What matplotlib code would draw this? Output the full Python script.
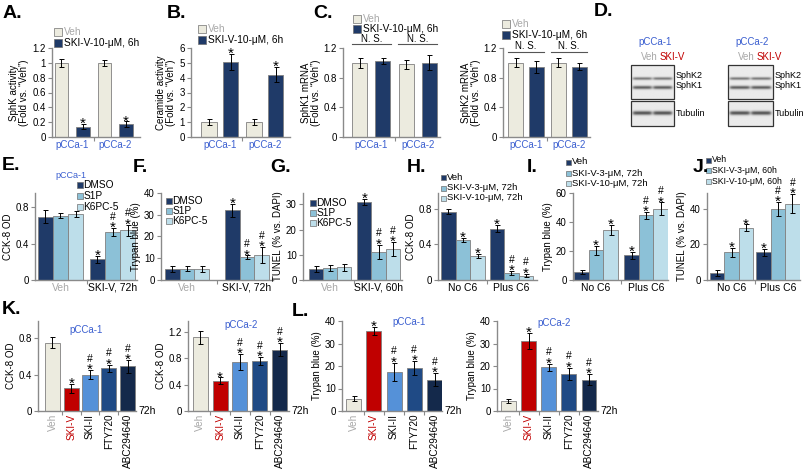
import numpy as np
import matplotlib
matplotlib.use('Agg')
import matplotlib.pyplot as plt
from matplotlib.patches import Rectangle
from matplotlib.ticker import FuncFormatter, FixedLocator

# ---------------- data ----------------
top_groups = ['pCCa-1', 'pCCa-2']
A_veh = [1.00, 1.00]; A_veh_err = [0.05, 0.04]
A_ski = [0.14, 0.17]; A_ski_err = [0.03, 0.04]
B_veh = [1.0, 1.0]; B_veh_err = [0.2, 0.22]
B_ski = [5.05, 4.2]; B_ski_err = [0.55, 0.5]
C1_veh = [1.00, 0.98]; C1_veh_err = [0.07, 0.06]
C1_ski = [1.02, 1.00]; C1_ski_err = [0.04, 0.10]
C2_veh = [1.00, 1.00]; C2_veh_err = [0.06, 0.06]
C2_ski = [0.94, 0.95]; C2_ski_err = [0.08, 0.05]

EF_groups = ['Veh', 'SKI-V, 72h']
G_groups = ['Veh', 'SKI-V, 60h']
HIJ_groups = ['No C6', 'Plus C6']
E_dmso = [0.70, 0.23]; E_dmso_err = [0.07, 0.04]
E_s1p = [0.71, 0.53]; E_s1p_err = [0.03, 0.04]
E_k6 = [0.73, 0.55]; E_k6_err = [0.03, 0.06]
F_dmso = [5.0, 32.0]; F_dmso_err = [1.5, 3.0]
F_s1p = [5.2, 10.5]; F_s1p_err = [1.2, 0.8]
F_k6 = [5.0, 11.5]; F_k6_err = [1.3, 3.5]
G_dmso = [4.5, 31.0]; G_dmso_err = [1.2, 1.3]
G_s1p = [4.8, 11.2]; G_s1p_err = [1.2, 2.8]
G_k6 = [5.0, 12.3]; G_k6_err = [1.3, 2.7]
H_veh = [0.77, 0.58]; H_veh_err = [0.03, 0.04]
H_3 = [0.45, 0.08]; H_3_err = [0.02, 0.02]
H_10 = [0.27, 0.05]; H_10_err = [0.02, 0.02]
I_veh = [5.5, 17.0]; I_veh_err = [1.5, 2.3]
I_3 = [20.5, 44.5]; I_3_err = [3.2, 2.5]
I_10 = [34.5, 49.0]; I_10_err = [3.5, 4.5]
J_veh = [4.0, 15.5]; J_veh_err = [1.5, 1.8]
J_3 = [15.5, 40.0]; J_3_err = [2.8, 4.0]
J_10 = [29.5, 43.0]; J_10_err = [1.8, 5.5]

KL_labels = ['Veh', 'SKI-V', 'SKI-II', 'FTY720', 'ABC294640']
K1 = [0.75, 0.25, 0.40, 0.47, 0.49]; K1_err = [0.06, 0.05, 0.05, 0.04, 0.07]
K2 = [1.12, 0.46, 0.75, 0.76, 0.93]; K2_err = [0.10, 0.05, 0.12, 0.06, 0.10]
L1 = [5.5, 35.5, 17.5, 19.0, 14.0]; L1_err = [1.0, 1.8, 4.0, 3.2, 2.8]
L2 = [4.5, 31.0, 19.5, 16.5, 14.0]; L2_err = [1.0, 3.5, 1.5, 2.8, 2.5]

# significance marks
top_marks_ski = ['*', '*']
E_marks = [['', '*'], ['', '#*'], ['', '#*']]
HIJ_marks = [['', '*'], ['*', '#*'], ['*', '#*']]
KL_marks = ['', '*', '#*', '#*', '#*']

# ---------------- style ----------------
W, H = 807, 472
plt.rcParams['font.family'] = ['Liberation Sans', 'DejaVu Sans']
plt.rcParams['font.size'] = 7
BEIGE = '#ecebdf'
NAVY = '#1f3a68'
MID = '#8cc1d7'
LIGHT = '#bddeea'
RED = '#c00000'
SKI2 = '#5591d8'
FTY = '#1f4a85'
ABC = '#14294b'
BLUE_T = '#3b5fd0'
GRAY_T = '#a8a8a8'
SPINE = '#8a8a8a'
EDGE = '#808080'

fig = plt.figure(figsize=(W / 100, H / 100), dpi=100)


def px_axes(x0, y0, x1, y1):
    return fig.add_axes([x0 / W, 1 - y1 / H, (x1 - x0) / W, (y1 - y0) / H])


def ftext(x, y, s, **kw):
    kw.setdefault('va', 'center')
    return fig.text(x / W, 1 - y / H, s, **kw)


def fsquare(x, yc, size, color):
    fig.patches.append(Rectangle((x / W, 1 - (yc + size / 2) / H), size / W, size / H,
                                 transform=fig.transFigure, facecolor=color,
                                 edgecolor='#707070', linewidth=0.5))


def legend_px(x, ys, labels, colors, size=6, fs=7, tcolors=None, gap=2):
    for i, (yc, lab, c) in enumerate(zip(ys, labels, colors)):
        fsquare(x, yc, size, c)
        tc = tcolors[i] if tcolors else 'black'
        ftext(x + size + gap, yc, lab, fontsize=fs, color=tc, ha='left')


fmt = FuncFormatter(lambda v, p: '{:g}'.format(round(v, 3)))


def style(ax, ylim, yticks, ylabel):
    ax.set_ylim(*ylim)
    ax.set_yticks(yticks)
    ax.yaxis.set_major_formatter(fmt)
    for s in ['top', 'right']:
        ax.spines[s].set_visible(False)
    for s in ['left', 'bottom']:
        ax.spines[s].set_color(SPINE)
        ax.spines[s].set_linewidth(1.0)
    ax.tick_params(axis='y', direction='out', length=3, width=0.8, color=SPINE,
                   labelsize=7, pad=1.5)
    ax.tick_params(axis='x', which='major', length=0, pad=2)
    ax.tick_params(axis='x', which='minor', direction='out', length=3, width=0.8, color=SPINE)
    ax.set_ylabel(ylabel, fontsize=7, labelpad=2, linespacing=1.0)
    ax.patch.set_alpha(0)


def mark(ax, x, top, m, star_fs=11, hash_fs=7.5):
    if not m:
        return
    ax.annotate('*', (x, top), xytext=(0, -2.8), textcoords='offset points',
                ha='center', va='baseline', fontsize=star_fs, annotation_clip=False)
    if '#' in m:
        ax.annotate('#', (x, top), xytext=(0, 6.0), textcoords='offset points',
                    ha='center', va='baseline', fontsize=hash_fs, annotation_clip=False)


def bars(ax, series, errs, colors, width, offsets, marks=None):
    for k, (vals, er, c, off) in enumerate(zip(series, errs, colors, offsets)):
        x = np.arange(len(vals)) + off
        ax.bar(x, vals, width, color=c, edgecolor=EDGE, linewidth=0.6, yerr=er,
               error_kw=dict(ecolor='black', elinewidth=0.7, capsize=1.8, capthick=0.7),
               zorder=2)
        if marks is not None:
            for xi, v, e, m in zip(x, vals, er, marks[k]):
                mark(ax, xi, v + e, m)


def group_ticks(ax, labels, colors, fs=7.5):
    n = len(labels)
    ax.set_xticks(range(n))
    ax.set_xticklabels(labels, fontsize=fs)
    for t, c in zip(ax.get_xticklabels(), colors):
        t.set_color(c)
    ax.xaxis.set_minor_locator(FixedLocator([i + 0.5 for i in range(n - 1)]))


# ---------------- top row ----------------
top_panels = [
    ((52, 48, 140, 137), A_veh, A_veh_err, A_ski, A_ski_err, 0.32, 0.25, (-0.47, 1.58),
     (0, 1.2), [0, 0.2, 0.4, 0.6, 0.8, 1.0, 1.2], 'SphK activity\n(Fold vs. \u201cVeh\u201d)', top_marks_ski),
    ((191, 48, 290, 137), B_veh, B_veh_err, B_ski, B_ski_err, 0.35, 0.24, (-0.64, 1.56),
     (0, 6), [0, 1, 2, 3, 4, 5, 6], 'Ceramide activity\n(Fold vs. \u201cVeh\u201d)', top_marks_ski),
    ((343, 48, 440, 137), C1_veh, C1_veh_err, C1_ski, C1_ski_err, 0.32, 0.25, (-0.61, 1.48),
     (0, 1.2), [0, 0.4, 0.8, 1.2], 'SphK1 mRNA\n(Fold vs. \u201cVeh\u201d)', None),
    ((503, 48, 590, 137), C2_veh, C2_veh_err, C2_ski, C2_ski_err, 0.35, 0.244, (-0.535, 1.49),
     (0, 1.2), [0, 0.4, 0.8, 1.2], 'SphK2 mRNA\n(Fold vs. \u201cVeh\u201d)', None),
]
top_axes = []
for box, v, ve, s, se, w, off, xl, yl, yt, ylab, mk in top_panels:
    ax = px_axes(*box)
    bars(ax, [v, s], [ve, se], [BEIGE, NAVY], w, [-off, off],
         marks=[['', ''], mk] if mk else None)
    style(ax, yl, yt, ylab)
    ax.set_xlim(*xl)
    group_ticks(ax, top_groups, [BLUE_T, BLUE_T], fs=7)
    top_axes.append(ax)

# N.S. annotations
for ax, ly in [(top_axes[2], 1.25), (top_axes[3], 1.15)]:
    for g in range(2):
        ax.plot([g - 0.42, g + 0.42], [ly, ly], color='#555555', lw=0.8, clip_on=False)
        ax.text(g, ly + 0.005, 'N. S.', ha='center', va='bottom', fontsize=7, clip_on=False)

legend_px(54, [32, 43], ['Veh', 'SKI-V-10-\u03bcM, 6h'], [BEIGE, NAVY], size=8, fs=7.3,
          tcolors=[GRAY_T, 'black'])
legend_px(198, [29, 40], ['Veh', 'SKI-V-10-\u03bcM, 6h'], [BEIGE, NAVY], size=8, fs=7.3,
          tcolors=[GRAY_T, 'black'])
legend_px(353, [19, 28.5], ['Veh', 'SKI-V-10-\u03bcM, 6h'], [BEIGE, NAVY], size=8, fs=7.3,
          tcolors=[GRAY_T, 'black'])
legend_px(502, [24, 35], ['Veh', 'SKI-V-10-\u03bcM, 6h'], [BEIGE, NAVY], size=8, fs=7.3,
          tcolors=[GRAY_T, 'black'])

# ---------------- D: blots ----------------
axd = px_axes(620, 0, 807, 160)
axd.axis('off')


def blot(x0, x1, y0, y1, bands, lanes):
    xs = np.linspace(x0, x1, 220)
    ys = np.linspace(y0, y1, 120)
    X, Y = np.meshgrid(xs, ys)
    img = np.full_like(X, 0.92)
    for lx0, lx1 in lanes:
        lane = 1 / (1 + np.exp(-(X - lx0) * 1.2)) / (1 + np.exp((X - lx1) * 1.2))
        for by, sig, dark in bands:
            img -= dark * lane * np.exp(-((Y - by) / sig) ** 2)
    axd.imshow(img, extent=(x0, x1, y1, y0), cmap='gray', vmin=0, vmax=1,
               aspect='auto', interpolation='bilinear')
    axd.add_patch(Rectangle((x0, y0), x1 - x0, y1 - y0, fill=False, edgecolor='#333333', lw=0.9))


for bx0, bx1, title in [(631, 674, 'pCCa-1'), (728, 773, 'pCCa-2')]:
    lanes = [(bx0 + 2, bx0 + (bx1 - bx0) / 2 - 1), (bx0 + (bx1 - bx0) / 2 + 1, bx1 - 2)]
    blot(bx0, bx1, 65, 99, [(78.5, 1.4, 0.45), (87.5, 1.7, 0.55)], lanes)
    blot(bx0, bx1, 101, 126, [(113, 2.0, 0.6)], lanes)
    axd.text(bx0 + 7, 42, title, color=BLUE_T, fontsize=7, ha='left', va='center')
    axd.text(bx0 + 10, 57, 'Veh', color=GRAY_T, fontsize=7, ha='left', va='center')
    axd.text(bx0 + 29, 57, 'SKI-V', color=RED, fontsize=7, ha='left', va='center')
    axd.text(bx1 + 2, 75, 'SphK2', fontsize=6.5, ha='left', va='center')
    axd.text(bx1 + 2, 86, 'SphK1', fontsize=6.5, ha='left', va='center')
    axd.text(bx1 + 2, 113, 'Tubulin', fontsize=6.5, ha='left', va='center')
axd.set_xlim(620, 807)
axd.set_ylim(160, 0)

# ---------------- middle row ----------------
mid_panels = [
    ((35, 193, 137, 280), [E_dmso, E_s1p, E_k6], [E_dmso_err, E_s1p_err, E_k6_err], 0.29,
     (-0.49, 1.47), (0, 0.96), [0, 0.4, 0.8], 'CCK-8 OD', E_marks, EF_groups, [GRAY_T, 'black']),
    ((161, 193, 273, 280), [F_dmso, F_s1p, F_k6], [F_dmso_err, F_s1p_err, F_k6_err], 0.245,
     (-0.433, 1.434), (0, 40), [0, 10, 20, 30, 40], 'Trypan blue (%)', E_marks, EF_groups, [GRAY_T, 'black']),
    ((303, 193, 402, 280), [G_dmso, G_s1p, G_k6], [G_dmso_err, G_s1p_err, G_k6_err], 0.29,
     (-0.557, 1.484), (0, 34.5), [0, 10, 20, 30], 'TUNEL (% vs. DAPI)', E_marks, G_groups, [GRAY_T, 'black']),
    ((438, 193, 537, 280), [H_veh, H_3, H_10], [H_veh_err, H_3_err, H_10_err], 0.30,
     (-0.515, 1.526), (0, 0.98), [0, 0.4, 0.8], 'CCK-8 OD', HIJ_marks, HIJ_groups, ['black', 'black']),
    ((573, 193, 668, 280), [I_veh, I_3, I_10], [I_veh_err, I_3_err, I_10_err], 0.29,
     (-0.46, 1.44), (0, 60), [0, 20, 40, 60], 'Trypan blue (%)', HIJ_marks, HIJ_groups, ['black', 'black']),
    ((707, 193, 800, 280), [J_veh, J_3, J_10], [J_veh_err, J_3_err, J_10_err], 0.31,
     (-0.527, 1.473), (0, 49), [0, 20, 40], 'TUNEL (% vs. DAPI)', HIJ_marks, HIJ_groups, ['black', 'black']),
]
for box, ser, ers, w, xl, yl, yt, ylab, mk, grp, gcol in mid_panels:
    ax = px_axes(*box)
    bars(ax, ser, ers, [NAVY, MID, LIGHT], w, [-w, 0, w], marks=mk)
    style(ax, yl, yt, ylab)
    ax.set_xlim(*xl)
    group_ticks(ax, grp, gcol, fs=7.5)

ftext(71, 175, 'pCCa-1', color=BLUE_T, fontsize=6.5, ha='center')
legend_px(77, [185, 196, 207], ['DMSO', 'S1P', 'K6PC-5'], [NAVY, MID, LIGHT], size=5.5, fs=7.3, gap=1)
legend_px(166, [201, 211, 221], ['DMSO', 'S1P', 'K6PC-5'], [NAVY, MID, LIGHT], size=5.5, fs=7.3, gap=1)
legend_px(310, [203, 213, 223], ['DMSO', 'S1P', 'K6PC-5'], [NAVY, MID, LIGHT], size=5.5, fs=7.3, gap=1)
legend_px(441, [177, 188, 198], ['Veh', 'SKI-V-3-\u03bcM, 72h', 'SKI-V-10-\u03bcM, 72h'],
          [NAVY, MID, LIGHT], size=5, fs=6.8, gap=1)
legend_px(566, [162, 173, 183], ['Veh', 'SKI-V-3-\u03bcM, 72h', 'SKI-V-10-\u03bcM, 72h'],
          [NAVY, MID, LIGHT], size=5, fs=6.8, gap=1)
legend_px(706, [160, 170.5, 181], ['Veh', 'SKI-V-3-\u03bcM, 60h', 'SKI-V-10-\u03bcM, 60h'],
          [NAVY, MID, LIGHT], size=5, fs=6.3, gap=1)

# ---------------- bottom row ----------------
bot_panels = [
    ((38, 321, 136, 411), K1, K1_err, 0.8, (-0.77, 4.45), (0, 0.99), [0, 0.4, 0.8], 'CCK-8 OD', (86, 330), 'pCCa-1'),
    ((188, 321, 289, 411), K2, K2_err, 0.76, (-0.63, 4.48), (0, 1.37), [0, 0.4, 0.8, 1.2], 'CCK-8 OD', (241, 325), 'pCCa-2'),
    ((342, 321, 442, 411), L1, L1_err, 0.74, (-0.57, 4.37), (0, 40), [0, 10, 20, 30, 40], 'Trypan blue (%)', (409, 322), 'pCCa-1'),
    ((497, 321, 598, 411), L2, L2_err, 0.74, (-0.57, 4.45), (0, 40), [0, 10, 20, 30, 40], 'Trypan blue (%)', (554, 323), 'pCCa-2'),
]
bar_cols = [BEIGE, RED, SKI2, FTY, ABC]
lab_cols = [GRAY_T, RED, 'black', 'black', 'black']
for box, vals, ers, w, xl, yl, yt, ylab, tpos, title in bot_panels:
    ax = px_axes(*box)
    x = np.arange(len(vals))
    ax.bar(x, vals, w, color=bar_cols, edgecolor=EDGE, linewidth=0.6, yerr=ers,
           error_kw=dict(ecolor='black', elinewidth=0.7, capsize=1.8, capthick=0.7), zorder=2)
    for xi, v, e, m in zip(x, vals, ers, KL_marks):
        mark(ax, xi, v + e, m)
    style(ax, yl, yt, ylab)
    ax.set_xlim(*xl)
    ax.set_xticks(x)
    ax.set_xticklabels(KL_labels, rotation=90, fontsize=7.2)
    for t, c in zip(ax.get_xticklabels(), lab_cols):
        t.set_color(c)
    ax.xaxis.set_minor_locator(FixedLocator([i + 0.5 for i in range(len(vals) - 1)]))
    ax.text(1.02, 0, '72h', transform=ax.transAxes, ha='left', va='center', fontsize=7.5)
    ftext(tpos[0], tpos[1], title, color=BLUE_T, fontsize=7, ha='center')

# ---------------- panel letters ----------------
for lab, x, y in [('A.', 3, 14), ('B.', 167, 14), ('C.', 313, 13), ('D.', 594, 11),
                  ('E.', 2, 166), ('F.', 133, 167), ('G.', 270, 167), ('H.', 407, 167),
                  ('I.', 527, 167), ('J.', 693, 168), ('K.', 2, 309), ('L.', 292, 311)]:
    ftext(x, y, lab, fontsize=14, fontweight='bold', ha='left')

fig.savefig('out.png', dpi=100)
